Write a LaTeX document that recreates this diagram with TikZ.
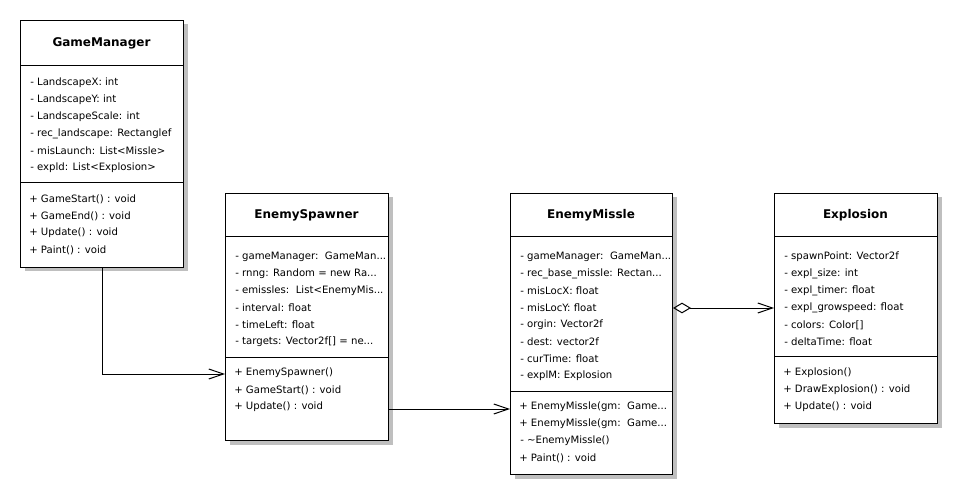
\documentclass[tikz,border=0pt]{standalone}
\usepackage{fontspec}
\setmainfont{DejaVu Sans}
\usetikzlibrary{arrows.meta,shadows,calc}
\begin{document}
\begin{tikzpicture}[x=0.75pt,y=-0.75pt,
  classbox/.style={draw=black, line width=0.75pt, fill=white, rectangle, inner sep=0pt, anchor=north west,
    drop shadow={fill=black!25, opacity=1, shadow xshift=3pt, shadow yshift=-3pt}},
  ctitle/.style={font=\bfseries\fontsize{9}{10}\selectfont, anchor=center, inner sep=0pt},
  member/.style={font=\fontsize{7.6}{9}\selectfont, anchor=west, inner sep=0pt},
  sep/.style={line width=0.75pt},
  >={Straight Barb[length=11pt,width=7.5pt,line width=0.75pt]},
  assoc/.style={line width=0.75pt, ->},
  aggr/.style={line width=0.75pt, {Diamond[open,length=13.5pt,width=8pt,line width=0.75pt]}->},
]
\useasboundingbox (0,0) rectangle (961,499);
\fill[white] (0,0) rectangle (961,499);

% GameManager
\node[classbox, minimum width=163*0.75pt, minimum height=247*0.75pt] (gm) at (20,20) {};
\node[ctitle] (gmt) at (101.5,43) {GameManager};
\draw[sep] (gm.west |- 0,66) -- (gm.east |- 0,66);
\draw[sep] (gm.west |- 0,183) -- (gm.east |- 0,183);
\node[member] (gma1) at (30,83) {- LandscapeX: int};
\node[member] (gma2) at (30,100) {- LandscapeY: int};
\node[member] (gma3) at (30,117) {- LandscapeScale: int};
\node[member] (gma4) at (30,134) {- rec\_landscape: Rectanglef};
\node[member] (gma5) at (30,151) {- misLaunch: List<Missle>};
\node[member] (gma6) at (30,168) {- expld: List<Explosion>};
\node[member] (gmm1) at (29,199) {+ GameStart() : void};
\node[member] (gmm2) at (29,216) {+ GameEnd() : void};
\node[member] (gmm3) at (29,233) {+ Update() : void};
\node[member] (gmm4) at (29,250) {+ Paint() : void};

% EnemySpawner
\node[classbox, minimum width=163*0.75pt, minimum height=247*0.75pt] (es) at (225,193) {};
\node[ctitle] (est) at (306.5,215) {EnemySpawner};
\draw[sep] (es.west |- 0,237) -- (es.east |- 0,237);
\draw[sep] (es.west |- 0,357) -- (es.east |- 0,357);
\node[member] (esa1) at (235,257) {- gameManager:\ \ GameMan...};
\node[member] (esa2) at (235,274) {- rnng: Random = new Ra...};
\node[member] (esa3) at (235,291) {- emissles:\ \ List<EnemyMis...};
\node[member] (esa4) at (235,308) {- interval: float};
\node[member] (esa5) at (235,325) {- timeLeft: float};
\node[member] (esa6) at (235,342) {- targets: Vector2f[] = ne...};
\node[member] (esm1) at (234,373) {+ EnemySpawner()};
\node[member] (esm2) at (234,390) {+ GameStart() : void};
\node[member] (esm3) at (234,407) {+ Update() : void};

% EnemyMissle
\node[classbox, minimum width=162*0.75pt, minimum height=281*0.75pt] (em) at (510,193) {};
\node[ctitle] (emt) at (591,215) {EnemyMissle};
\draw[sep] (em.west |- 0,237) -- (em.east |- 0,237);
\draw[sep] (em.west |- 0,391) -- (em.east |- 0,391);
\node[member] (ema1) at (520,257) {- gameManager:\ \ GameMan...};
\node[member] (ema2) at (520,274) {- rec\_base\_missle: Rectan...};
\node[member] (ema3) at (520,291) {- misLocX: float};
\node[member] (ema4) at (520,308) {- misLocY: float};
\node[member] (ema5) at (520,325) {- orgin: Vector2f};
\node[member] (ema6) at (520,342) {- dest: vector2f};
\node[member] (ema7) at (520,359) {- curTime: float};
\node[member] (ema8) at (520,376) {- explM: Explosion};
\node[member] (emm1) at (519,407) {+ EnemyMissle(gm:\ \ Game...};
\node[member] (emm2) at (519,424) {+ EnemyMissle(gm:\ \ Game...};
\node[member] (emm3) at (520,441) {- \textasciitilde EnemyMissle()};
\node[member] (emm4) at (519,458) {+ Paint() : void};

% Explosion
\node[classbox, minimum width=163*0.75pt, minimum height=230*0.75pt] (ex) at (774,193) {};
\node[ctitle] (ext) at (855.5,215) {Explosion};
\draw[sep] (ex.west |- 0,237) -- (ex.east |- 0,237);
\draw[sep] (ex.west |- 0,356) -- (ex.east |- 0,356);
\node[member] (exa1) at (784,257) {- spawnPoint: Vector2f};
\node[member] (exa2) at (784,274) {- expl\_size: int};
\node[member] (exa3) at (784,291) {- expl\_timer: float};
\node[member] (exa4) at (784,308) {- expl\_growspeed: float};
\node[member] (exa5) at (784,325) {- colors: Color[]};
\node[member] (exa6) at (784,342) {- deltaTime: float};
\node[member] (exm1) at (783,373) {+ Explosion()};
\node[member] (exm2) at (783,390) {+ DrawExplosion() : void};
\node[member] (exm3) at (783,407) {+ Update() : void};

% connectors
\draw[assoc] (gm.south) |- (es.west |- 0,374);
\draw[assoc] (es.east |- 0,409) -- (em.west |- 0,409);
\draw[aggr] (em.east |- 0,308) -- (ex.west |- 0,308);
\end{tikzpicture}
\end{document}
